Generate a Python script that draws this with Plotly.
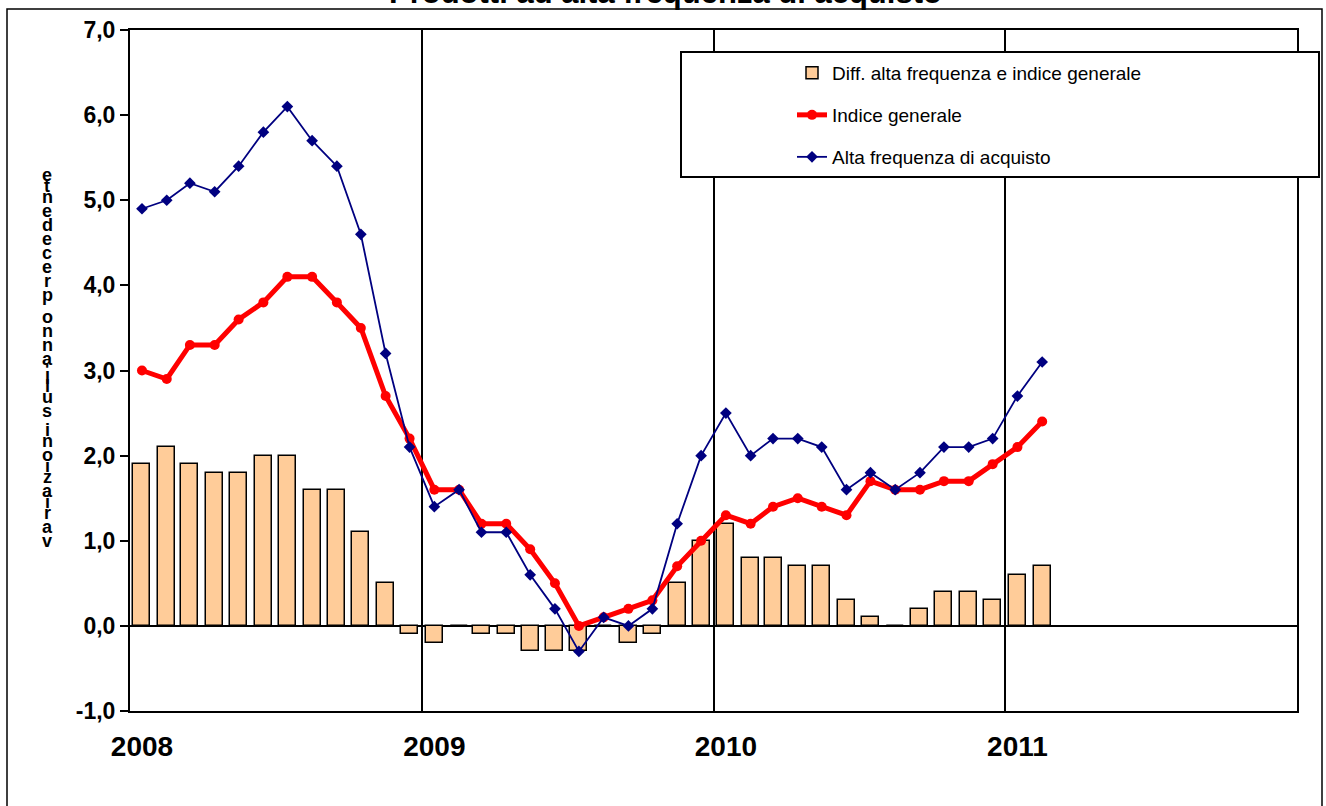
import plotly.graph_objects as go
import pandas as pd

# ---------------- data ----------------
year_ticks = ["2008-01-01", "2009-01-01", "2010-01-01", "2011-01-01"]
year_label_pos = ["2008-01-16", "2009-01-16", "2010-01-16", "2011-01-16"]
year_labels = ["2008", "2009", "2010", "2011"]
y_ticks = [-1, 0, 1, 2, 3, 4, 5, 6, 7]
y_labels = ["-1,0", "0,0", "1,0", "2,0", "3,0", "4,0", "5,0", "6,0", "7,0"]

alta = [4.9, 5.0, 5.2, 5.1, 5.4, 5.8, 6.1, 5.7, 5.4, 4.6, 3.2, 2.1,
        1.4, 1.6, 1.1, 1.1, 0.6, 0.2, -0.3, 0.1, 0.0, 0.2, 1.2, 2.0,
        2.5, 2.0, 2.2, 2.2, 2.1, 1.6, 1.8, 1.6, 1.8, 2.1, 2.1, 2.2,
        2.7, 3.1]
indice = [3.0, 2.9, 3.3, 3.3, 3.6, 3.8, 4.1, 4.1, 3.8, 3.5, 2.7, 2.2,
          1.6, 1.6, 1.2, 1.2, 0.9, 0.5, 0.0, 0.1, 0.2, 0.3, 0.7, 1.0,
          1.3, 1.2, 1.4, 1.5, 1.4, 1.3, 1.7, 1.6, 1.6, 1.7, 1.7, 1.9,
          2.1, 2.4]
diff = [1.9, 2.1, 1.9, 1.8, 1.8, 2.0, 2.0, 1.6, 1.6, 1.1, 0.5, -0.1,
        -0.2, 0.0, -0.1, -0.1, -0.3, -0.3, -0.3, 0.0, -0.2, -0.1, 0.5, 1.0,
        1.2, 0.8, 0.8, 0.7, 0.7, 0.3, 0.1, 0.0, 0.2, 0.4, 0.4, 0.3,
        0.6, 0.7]

title_text = "Prodotti ad alta frequenza di acquisto"
ylabel_text = "variazioni sull'anno precedente"
names = ["Diff. alta frequenza e indice generale", "Indice generale", "Alta frequenza di acquisto"]

months = pd.date_range("2008-01-01", periods=len(alta), freq="MS") + pd.Timedelta(days=15)

# ---------------- geometry helpers (page pixels -> paper) ----------------
W, H = 1326, 806
L, R, T, B = 130, 1297, 30, 711
def px(x):
    return (x - L) / (R - L)
def py(y):
    return (B - y) / (B - T)

FONT = "Liberation Sans, Arial, sans-serif"
bar_w = 0.7 * 30.44 * 86400000

fig = go.Figure()
fig.add_trace(go.Bar(
    x=months, y=diff, name=names[0], width=[bar_w] * len(diff),
    marker=dict(color="#FFCC99", line=dict(color="black", width=1.5)),
    legend="legend",
))
fig.add_trace(go.Scatter(
    x=months, y=indice, name=names[1], mode="lines+markers",
    line=dict(color="#FF0000", width=5),
    marker=dict(symbol="circle", size=10, color="#FF0000"),
    legend="legend2",
))
fig.add_trace(go.Scatter(
    x=months, y=alta, name=names[2], mode="lines+markers",
    line=dict(color="#000080", width=1.8),
    marker=dict(symbol="diamond", size=9, color="#000080"),
    legend="legend3",
))

leg_common = dict(x=px(792), xanchor="left", yanchor="middle",
                  bgcolor="rgba(0,0,0,0)", borderwidth=0,
                  font=dict(family=FONT, size=19, color="black"))
fig.update_layout(
    legend=dict(y=py(73), **leg_common),
    legend2=dict(y=py(115), **leg_common),
    legend3=dict(y=py(157), **leg_common),
)

shapes = [
    # outer chart border
    dict(type="rect", xref="paper", yref="paper", x0=px(7), x1=px(1322), y0=py(840), y1=py(9),
         line=dict(color="black", width=1.5), fillcolor="rgba(0,0,0,0)", layer="below"),
    # legend box
    dict(type="rect", xref="paper", yref="paper", x0=px(681), x1=px(1319), y0=py(177), y1=py(52),
         line=dict(color="black", width=2), fillcolor="white", layer="above"),
]

annotations = [
    dict(text="<b>" + title_text + "</b>", xref="paper", yref="paper", x=px(665), y=py(-8),
         xanchor="center", yanchor="middle", showarrow=False,
         font=dict(family=FONT, size=31, color="black")),
]

# stacked y-axis label (upright characters, bottom to top)
narrow = set("ilt' ")
adv = [8 if c in narrow else 14 for c in ylabel_text]
ypos = 541.0
for i, c in enumerate(ylabel_text):
    if i > 0:
        ypos -= (adv[i - 1] + adv[i]) / 2
    if c == " ":
        continue
    annotations.append(dict(text="<b>" + c + "</b>", xref="paper", yref="paper",
                            x=px(47), y=py(ypos), xanchor="center", yanchor="middle",
                            showarrow=False, font=dict(family=FONT, size=18, color="black")))

fig.update_layout(
    width=W, height=H,
    margin=dict(l=L, r=W - R, t=T, b=H - B),
    paper_bgcolor="white", plot_bgcolor="white",
    showlegend=True,
    bargap=0,
    shapes=shapes,
    annotations=annotations,
    xaxis=dict(
        type="date", range=["2008-01-01", "2012-01-01"],
        tickvals=year_label_pos, ticktext=year_labels,
        showgrid=False,
        minor=dict(tickvals=year_ticks, showgrid=True, gridcolor="black", gridwidth=1.5, ticks=""),
        showline=True, linecolor="black", linewidth=2, mirror=True,
        ticks="", ticklabelstandoff=9,
        tickfont=dict(family=FONT, size=28, color="black", weight="bold"),
        zeroline=False,
    ),
    yaxis=dict(
        range=[-1, 7], tickvals=y_ticks, ticktext=y_labels,
        showgrid=False,
        zeroline=True, zerolinecolor="black", zerolinewidth=2,
        showline=True, linecolor="black", linewidth=2, mirror=True,
        ticks="outside", ticklen=8, tickwidth=2, tickcolor="black",
        tickfont=dict(family=FONT, size=23, color="black", weight="bold"),
    ),
)

fig.write_html("out.html", config={"displayModeBar": False},
               post_script="document.body.style.margin='0';document.body.style.overflow='hidden';")
